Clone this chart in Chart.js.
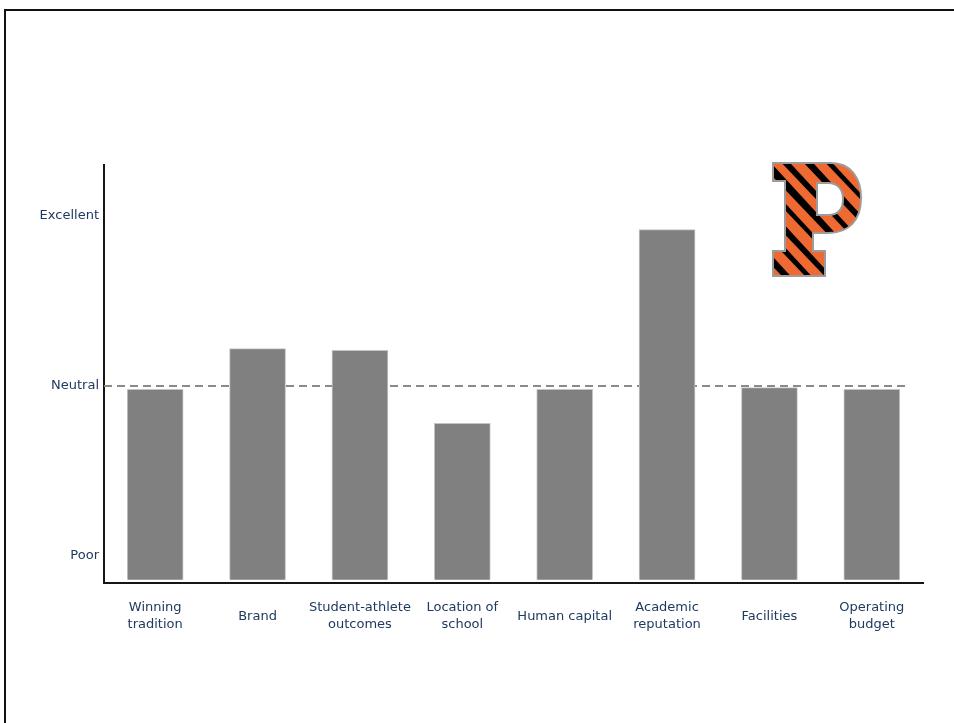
<!DOCTYPE html>
<html>
<head>
<meta charset="utf-8">
<script src="https://cdn.jsdelivr.net/npm/chart.js@4/dist/chart.umd.min.js"></script>
<style>
  html, body { margin: 0; padding: 0; background: #fff; overflow: hidden; }
  #wrap { position: relative; width: 954px; height: 723px; }
  #frame {
    position: absolute; left: 4px; top: 9px; width: 980px; height: 760px;
    border-left: 2px solid #111; border-top: 2px solid #111;
  }
</style>
</head>
<body>
<div id="wrap">
  <div id="frame"></div>
  <canvas id="rating-chart"></canvas>
</div>
<script>
let categories = [
  ['Winning', 'tradition'],
  'Brand',
  ['Student-athlete', 'outcomes'],
  ['Location of', 'school'],
  'Human capital',
  ['Academic', 'reputation'],
  'Facilities',
  ['Operating', 'budget']
];
// 1 = Poor, 2 = Neutral, 3 = Excellent
let ratings = [1.98, 2.22, 2.21, 1.78, 1.98, 2.92, 1.99, 1.98];
let tickValues = [1, 2, 3];
let tickLabels = ['Poor', 'Neutral', 'Excellent'];
let neutralValue = 2;

let labelColor = '#1f3a60';
let labelFont = { family: '"DejaVu Sans", sans-serif', size: 13, lineHeight: 1.25 };

// dashed reference line at the neutral rating, behind the bars
let neutralLine = {
  id: 'neutralLine',
  beforeDatasetsDraw(chart) {
    let ctx = chart.ctx;
    let area = chart.chartArea;
    let y = chart.scales.y.getPixelForValue(neutralValue);
    ctx.save();
    ctx.strokeStyle = '#8a8a8a';
    ctx.lineWidth = 2;
    ctx.setLineDash([8, 5]);
    ctx.beginPath();
    ctx.moveTo(area.left, y);
    ctx.lineTo(area.right - 15, y);
    ctx.stroke();
    ctx.restore();
  }
};

// block "P" outline, 88 x 114 box, with the counter cut out
function letterP(o) {
  o.beginPath();
  o.moveTo(0, 0);
  o.lineTo(58, 0);
  o.bezierCurveTo(78, 0, 88, 15, 88, 35);
  o.bezierCurveTo(88, 56, 77, 70, 55, 70);
  o.lineTo(40, 70);
  o.lineTo(40, 88);
  o.lineTo(52, 88);
  o.lineTo(52, 113);
  o.lineTo(0, 113);
  o.lineTo(0, 88);
  o.lineTo(12, 88);
  o.lineTo(12, 18);
  o.lineTo(0, 18);
  o.closePath();
  o.moveTo(44, 20);
  o.lineTo(55, 20);
  o.bezierCurveTo(66, 20, 70, 28, 70, 36);
  o.bezierCurveTo(70, 45, 66, 52, 55, 52);
  o.lineTo(44, 52);
  o.closePath();
}

// tiger-striped P in the upper right corner
let logo = {
  id: 'logo',
  afterDraw(chart) {
    let ctx = chart.ctx;
    let bx = 773, by = 163, pad = 4;
    let off = document.createElement('canvas');
    off.width = 88 + pad * 2;
    off.height = 114 + pad * 2;
    let o = off.getContext('2d');

    // stripes
    o.fillStyle = '#ef6a32';
    o.fillRect(0, 0, off.width, off.height);
    o.save();
    o.translate(off.width / 2, off.height / 2);
    o.rotate(-Math.PI * 0.24);
    o.fillStyle = '#000';
    let widths = [7, 8, 6, 9, 7, 8, 6, 9, 7, 8, 6, 9, 7, 8];
    let gaps = [8, 7, 9, 8, 7, 9, 8, 7, 9, 8, 7, 9, 8, 7];
    let x = -110;
    for (let i = 0; i < widths.length; i++) {
      o.beginPath();
      o.moveTo(x, -120);
      o.lineTo(x + widths[i], -120);
      o.lineTo(x + widths[i] * 0.7, 120);
      o.lineTo(x + widths[i] * 0.2, 120);
      o.closePath();
      o.fill();
      x += widths[i] + gaps[i];
    }
    o.restore();

    o.save();
    o.translate(pad, pad);
    letterP(o);
    o.globalCompositeOperation = 'destination-in';
    o.fill('evenodd');
    o.globalCompositeOperation = 'source-over';
    o.lineWidth = 2;
    o.strokeStyle = '#9c9c9c';
    o.stroke();
    o.restore();

    ctx.drawImage(off, bx - pad, by - pad);
  }
};

let ctx = document.getElementById('rating-chart').getContext('2d');

let chart = new Chart(ctx, {
  type: 'bar',
  data: {
    labels: categories,
    datasets: [{
      data: ratings,
      base: 0.86,
      backgroundColor: '#808080',
      borderColor: '#c4c4c4',
      borderWidth: 1,
      borderSkipped: 'start',
      barThickness: 56
    }]
  },
  plugins: [neutralLine, logo],
  options: {
    responsive: true,
    maintainAspectRatio: false,
    animation: false,
    devicePixelRatio: 1,
    layout: { padding: { left: 0, top: 165, right: 31, bottom: 80 } },
    plugins: {
      legend: { display: false },
      tooltip: { enabled: false },
      title: { display: false }
    },
    scales: {
      x: {
        offset: true,
        grid: { display: false, drawTicks: false },
        border: { display: true, color: '#151515', width: 2 },
        ticks: {
          color: labelColor,
          font: labelFont,
          padding: 25,
          maxRotation: 0,
          minRotation: 0,
          autoSkip: false,
          crossAlign: 'center'
        },
        afterFit(scale) { scale.height = 60; }
      },
      y: {
        min: 0.841,
        max: 3.3,
        grid: { display: false, drawTicks: false },
        border: { display: true, color: '#151515', width: 2 },
        afterBuildTicks(scale) {
          scale.ticks = tickValues.map(v => ({ value: v }));
        },
        ticks: {
          color: labelColor,
          font: labelFont,
          padding: 5,
          callback: function (value) {
            let i = tickValues.indexOf(value);
            return i >= 0 ? tickLabels[i] : '';
          }
        },
        afterFit(scale) { scale.width = 104; }
      }
    }
  }
});
</script>
</body>
</html>
